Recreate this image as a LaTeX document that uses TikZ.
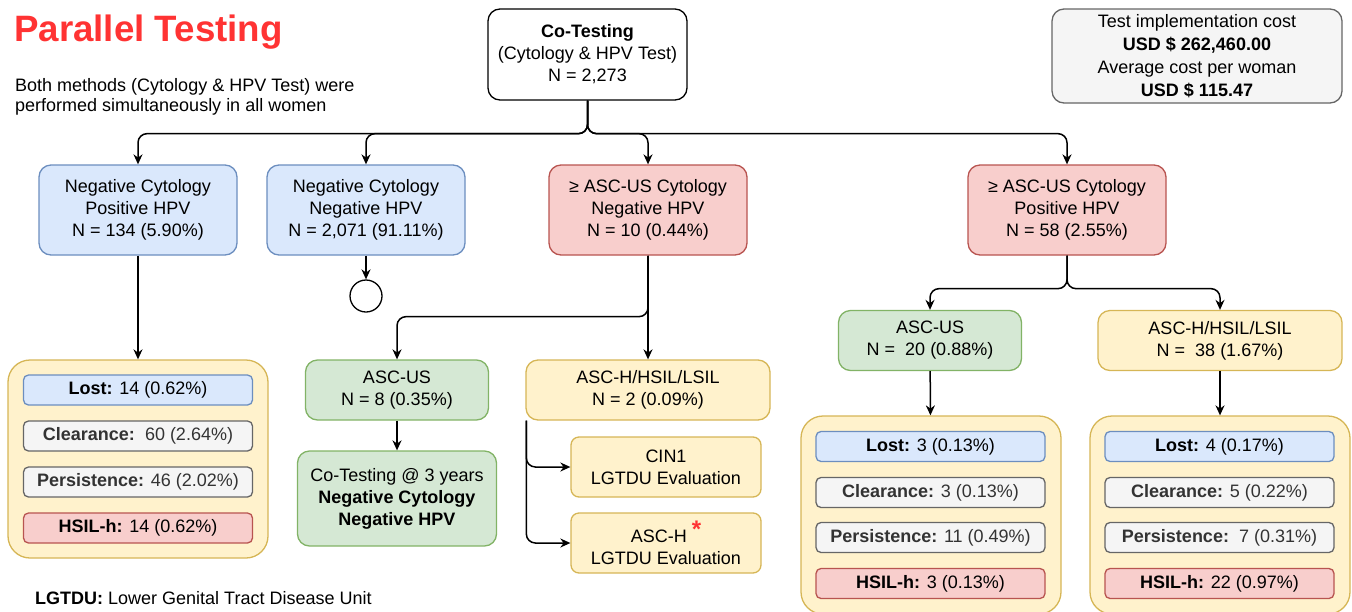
\documentclass[tikz,border=0pt]{standalone}
\usepackage{fontspec}
\setmainfont{Liberation Sans}
\usetikzlibrary{arrows.meta, positioning}

\definecolor{titlered}{HTML}{FF3333}
\definecolor{bluefill}{HTML}{DAE8FC}
\definecolor{blueline}{HTML}{6C8EBF}
\definecolor{redfill}{HTML}{F8CECC}
\definecolor{redline}{HTML}{B85450}
\definecolor{greenfill}{HTML}{D5E8D4}
\definecolor{greenline}{HTML}{82B366}
\definecolor{yellowfill}{HTML}{FFF2CC}
\definecolor{yellowline}{HTML}{D6B656}
\definecolor{grayfill}{HTML}{F5F5F5}
\definecolor{grayline}{HTML}{666666}
\definecolor{graytext}{HTML}{333333}

\begin{document}
\begin{tikzpicture}[x=1pt, y=-1pt,
  every node/.style={font=\fontsize{18}{22}\selectfont},
  box/.style={rectangle, draw, line width=1.3pt, rounded corners=12pt, minimum width=198pt, minimum height=90pt, align=center, inner sep=2pt},
  bluebox/.style={box, fill=bluefill, draw=blueline},
  redbox/.style={box, fill=redfill, draw=redline},
  greenbox/.style={box, fill=greenfill, draw=greenline, minimum width=183pt, minimum height=60pt},
  yellowbox/.style={box, fill=yellowfill, draw=yellowline, minimum width=244pt, minimum height=60pt},
  evalbox/.style={box, fill=yellowfill, draw=yellowline, minimum width=190pt, minimum height=60pt, rounded corners=8pt},
  group/.style={rectangle, draw=yellowline, fill=yellowfill, line width=1.3pt, rounded corners=22pt, minimum width=260pt},
  item/.style={rectangle, draw, line width=1.3pt, rounded corners=5pt, minimum width=229pt, minimum height=30pt, inner sep=1pt},
  lost/.style={item, fill=bluefill, draw=blueline},
  kept/.style={item, fill=grayfill, draw=grayline, text=graytext},
  hsilh/.style={item, fill=redfill, draw=redline},
  arrow/.style={-{Stealth[length=10pt, width=9pt]}, line width=1.5pt, rounded corners=9pt}
]
\useasboundingbox (0,0) rectangle (1352,611);

% Heading
\node[anchor=west, inner sep=0, text=titlered, font=\fontsize{36.7}{40}\selectfont\bfseries] (title) at (14,32) {Parallel Testing};
\node[anchor=north west, inner sep=0, align=left, font=\fontsize{18}{20}\selectfont] (intro) at (15,78)
  {Both methods (Cytology \& HPV Test) were\\performed simultaneously in all women};

% Root and cost
\node[box, fill=white, draw=black, minimum width=199pt, minimum height=91pt] (cotest) at (587.5,54.5)
  {\textbf{Co-Testing}\\(Cytology \& HPV Test)\\N = 2,273};
\node[box, fill=grayfill, draw=grayline, minimum width=290pt, minimum height=94pt, font=\fontsize{18}{23}\selectfont] (cost) at (1197,56)
  {Test implementation cost\\\textbf{USD \$ 262,460.00}\\Average cost per woman\\\textbf{USD \$ 115.47}};

% First split
\node[bluebox] (negpos) at (138,210) {Negative Cytology\\Positive HPV\\N = 134 (5.90\%)};
\node[bluebox] (negneg) at (366,210) {Negative Cytology\\Negative HPV\\N = 2,071 (91.11\%)};
\node[redbox] (ascneg) at (648,210) {≥ ASC-US Cytology\\Negative HPV\\N = 10 (0.44\%)};
\node[redbox] (ascpos) at (1067,210) {≥ ASC-US Cytology\\Positive HPV\\N = 58 (2.55\%)};

\draw[arrow] (cotest.south) -- ++(0,33) -| (negpos.north);
\draw[arrow] (cotest.south) -- ++(0,33) -| (negneg.north);
\draw[arrow] (cotest.south) -- ++(0,33) -| (ascneg.north);
\draw[arrow] (cotest.south) -- ++(0,33) -| (ascpos.north);

% Negative / negative ends here
\node[circle, draw, line width=1.3pt, minimum size=32pt, inner sep=0] (stop) at (366,296) {};
\draw[arrow] (negneg) -- (stop);

% Outcomes after positive HPV
\node[group, minimum height=198pt] (outA) at (138,459) {};
\node[lost] (lostA) at (138,390) {\textbf{Lost:} 14 (0.62\%)};
\node[kept] (clearA) at (138,436) {\textbf{Clearance:}\ \ 60 (2.64\%)};
\node[kept] (persA) at (138,482) {\textbf{Persistence:} 46 (2.02\%)};
\node[hsilh] (hsilA) at (138,528) {\textbf{HSIL-h:} 14 (0.62\%)};
\draw[arrow] (negpos) -- (outA);

% ASC-US or worse, negative HPV
\node[greenbox] (ascus) at (397,390) {ASC-US\\N = 8 (0.35\%)};
\node[yellowbox] (hsil) at (648,390) {ASC-H/HSIL/LSIL\\N = 2 (0.09\%)};
\node[greenbox, minimum width=199pt, minimum height=95pt] (retest) at (397,498.5)
  {Co-Testing @ 3 years\\\textbf{Negative Cytology}\\\textbf{Negative HPV}};
\node[evalbox] (cin) at (666,467) {CIN1\\LGTDU Evaluation};
\node[evalbox] (asch) at (666,543) {ASC-H \textcolor{titlered}{\raisebox{5pt}{\fontsize{24}{24}\selectfont\textbf{*}}}\\LGTDU Evaluation};

\draw[arrow] (ascneg.south) -- ++(0,61) -| (ascus.north);
\draw[arrow] (ascneg) -- (hsil);
\draw[arrow] (ascus) -- (retest);
\draw[arrow] ([xshift=1pt]hsil.south west) |- (cin.west);
\draw[arrow] ([xshift=1pt]hsil.south west) |- (asch.west);

% ASC-US or worse, positive HPV
\node[greenbox] (ascus2) at (930,340.5) {ASC-US\\N =\ \ 20 (0.88\%)};
\node[yellowbox] (hsil2) at (1220,340.5) {ASC-H/HSIL/LSIL\\N =\ \ 38 (1.67\%)};
\draw[arrow] (ascpos.south) -- ++(0,33) -| (ascus2.north);
\draw[arrow] (ascpos.south) -- ++(0,33) -| (hsil2.north);

\node[group, minimum height=198pt] (outB) at (931,515) {};
\node[lost] (lostB) at (930.5,446.5) {\textbf{Lost:} 3 (0.13\%)};
\node[kept] (clearB) at (930.5,492.5) {\textbf{Clearance:} 3 (0.13\%)};
\node[kept] (persB) at (930.5,537.5) {\textbf{Persistence:} 11 (0.49\%)};
\node[hsilh] (hsilB) at (930.5,583.5) {\textbf{HSIL-h:} 3 (0.13\%)};
\draw[arrow] (ascus2) -- (outB);

\node[group, minimum height=198pt] (outC) at (1220,515) {};
\node[lost] (lostC) at (1219.5,446.5) {\textbf{Lost:} 4 (0.17\%)};
\node[kept] (clearC) at (1219.5,492.5) {\textbf{Clearance:} 5 (0.22\%)};
\node[kept] (persC) at (1219.5,537.5) {\textbf{Persistence:}\ \ 7 (0.31\%)};
\node[hsilh] (hsilC) at (1219.5,583.5) {\textbf{HSIL-h:} 22 (0.97\%)};
\draw[arrow] (hsil2) -- (outC);

% Abbreviation
\node[anchor=west, inner sep=0] (legend) at (35,598) {\textbf{LGTDU:} Lower Genital Tract Disease Unit};

\end{tikzpicture}
\end{document}
